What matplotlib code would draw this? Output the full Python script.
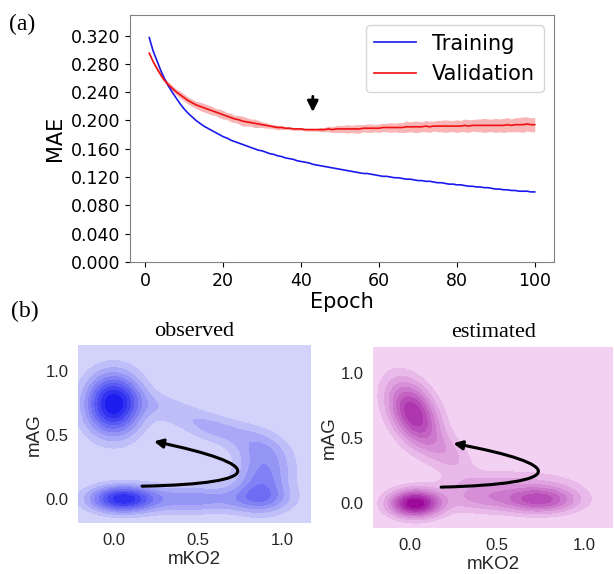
import numpy as np
import matplotlib.pyplot as plt
from matplotlib.colors import LinearSegmentedColormap
from matplotlib.patches import FancyArrowPatch
from matplotlib.path import Path

# ---- panel (a): MAE per epoch ----
epochs = np.arange(1, 101)
train_mae = [0.317, 0.298, 0.284, 0.270, 0.258, 0.248, 0.239, 0.231, 0.223, 0.216,
             0.210, 0.205, 0.200, 0.196, 0.192, 0.189, 0.186, 0.183, 0.180, 0.177,
             0.175, 0.172, 0.170, 0.168, 0.166, 0.164, 0.162, 0.160, 0.158, 0.157,
             0.155, 0.153, 0.152, 0.150, 0.149, 0.147, 0.146, 0.145, 0.143, 0.142,
             0.141, 0.140, 0.138, 0.137, 0.136, 0.135, 0.134, 0.133, 0.132, 0.131,
             0.130, 0.129, 0.128, 0.127, 0.126, 0.125, 0.125, 0.124, 0.123, 0.122,
             0.121, 0.121, 0.120, 0.119, 0.119, 0.118, 0.117, 0.117, 0.116, 0.115,
             0.115, 0.114, 0.114, 0.113, 0.112, 0.112, 0.111, 0.110, 0.110, 0.109,
             0.109, 0.108, 0.107, 0.107, 0.106, 0.106, 0.105, 0.105, 0.104, 0.103,
             0.103, 0.102, 0.102, 0.101, 0.101, 0.100, 0.100, 0.100, 0.099, 0.099]
val_mae = [0.295, 0.283, 0.273, 0.264, 0.256, 0.250, 0.245, 0.240, 0.236, 0.232,
           0.228, 0.225, 0.222, 0.220, 0.218, 0.216, 0.214, 0.212, 0.210, 0.208,
           0.206, 0.204, 0.202, 0.201, 0.199, 0.198, 0.197, 0.196, 0.195, 0.194,
           0.193, 0.192, 0.191, 0.190, 0.190, 0.189, 0.189, 0.188, 0.188, 0.188,
           0.187, 0.187, 0.187, 0.187, 0.187, 0.187, 0.188, 0.187, 0.188, 0.188,
           0.188, 0.188, 0.188, 0.188, 0.188, 0.189, 0.189, 0.189, 0.189, 0.189,
           0.190, 0.190, 0.190, 0.190, 0.190, 0.190, 0.191, 0.191, 0.191, 0.191,
           0.191, 0.192, 0.191, 0.192, 0.192, 0.192, 0.192, 0.192, 0.192, 0.192,
           0.192, 0.193, 0.192, 0.193, 0.193, 0.193, 0.193, 0.193, 0.193, 0.193,
           0.193, 0.193, 0.194, 0.193, 0.194, 0.194, 0.194, 0.195, 0.194, 0.194]
val_std = [0.002, 0.002, 0.003, 0.003, 0.003, 0.004, 0.004, 0.004, 0.005, 0.005,
           0.005, 0.005, 0.005, 0.006, 0.006, 0.006, 0.006, 0.005, 0.006, 0.006,
           0.005, 0.006, 0.005, 0.006, 0.007, 0.006, 0.005, 0.006, 0.005, 0.004,
           0.004, 0.003, 0.003, 0.003, 0.003, 0.002, 0.002, 0.002, 0.002, 0.002,
           0.002, 0.002, 0.002, 0.002, 0.003, 0.003, 0.004, 0.004, 0.005, 0.005,
           0.005, 0.006, 0.005, 0.006, 0.006, 0.005, 0.006, 0.006, 0.005, 0.006,
           0.006, 0.006, 0.007, 0.006, 0.007, 0.007, 0.008, 0.007, 0.008, 0.008,
           0.007, 0.008, 0.008, 0.007, 0.008, 0.008, 0.009, 0.008, 0.008, 0.009,
           0.008, 0.009, 0.009, 0.008, 0.009, 0.009, 0.010, 0.009, 0.009, 0.010,
           0.009, 0.010, 0.010, 0.009, 0.010, 0.010, 0.011, 0.010, 0.010, 0.010]
best_epoch = 43

# ---- panel (b): density blobs (centre, spread, tilt, height) ----
obs_cx = [0.00, 0.05, 0.45, 0.88, 0.85, 0.30, 0.60, 0.88]
obs_cy = [0.74, 0.00, 0.00, 0.12, 0.00, 0.72, 0.55, 0.38]
obs_sx = [0.11, 0.13, 0.20, 0.11, 0.15, 0.15, 0.15, 0.12]
obs_sy = [0.16, 0.07, 0.075, 0.14, 0.07, 0.09, 0.09, 0.12]
obs_rho = [0.0, 0.0, 0.0, 0.0, 0.0, -0.5, -0.5, -0.3]
obs_amp = [1.00, 0.85, 0.35, 0.42, 0.22, 0.14, 0.22, 0.26]

est_cx = [0.02, 0.22, 0.03, 0.75, 0.40, 0.60]
est_cy = [0.69, 0.38, 0.00, 0.03, 0.05, 0.17]
est_sx = [0.10, 0.10, 0.10, 0.15, 0.15, 0.25]
est_sy = [0.17, 0.12, 0.07, 0.07, 0.08, 0.07]
est_rho = [-0.4, -0.5, 0.0, 0.0, 0.0, 0.0]
est_amp = [0.80, 0.22, 1.00, 0.65, 0.30, 0.15]

# trajectory arrow (start, two controls, tip)
obs_arrow = [(0.17, 0.10), (0.92, 0.12), (0.90, 0.27), (0.24, 0.45)]
est_arrow = [(0.18, 0.125), (0.92, 0.15), (0.90, 0.30), (0.25, 0.46)]


def density(xx, yy, cx, cy, sx, sy, rho, amp):
    z = np.zeros_like(xx)
    for x0, y0, a, b, r, h in zip(cx, cy, sx, sy, rho, amp):
        dx = (xx - x0) / a
        dy = (yy - y0) / b
        z += h * np.exp(-(dx * dx - 2 * r * dx * dy + dy * dy) / (2 * (1 - r * r)))
    return z


def kde_panel(ax, z, xx, yy, bg, peak, title, arrow):
    cmap = LinearSegmentedColormap.from_list('k', [bg, peak])
    levels = np.linspace(0, z.max(), 11)
    ax.contourf(xx, yy, z, levels=levels, cmap=cmap)
    path = Path(arrow, [Path.MOVETO, Path.CURVE4, Path.CURVE4, Path.CURVE4])
    ax.add_patch(FancyArrowPatch(path=path, arrowstyle='-|>', mutation_scale=13,
                                 lw=2.2, color='black'))
    ax.set_xlim(-0.21, 1.17)
    ax.set_ylim(-0.19, 1.20)
    ax.set_xticks([0.0, 0.5, 1.0])
    ax.set_yticks([0.0, 0.5, 1.0])
    for s in ax.spines.values():
        s.set_visible(False)
    ax.tick_params(length=0, pad=7, labelsize=12, labelcolor='#262626')
    for lab in ax.get_xticklabels() + ax.get_yticklabels():
        lab.set_family('Liberation Sans')
    ax.set_xlabel('mKO2', fontsize=13.5, family='Liberation Sans', color='#262626', labelpad=2)
    ax.set_ylabel('mAG', fontsize=13.5, family='Liberation Sans', color='#262626', labelpad=2)
    ax.set_title(title, fontsize=16, family='Liberation Serif', pad=7)


fig = plt.figure(figsize=(6.14, 5.74), dpi=100)

ax = fig.add_axes([0.2117, 0.5436, 0.6906, 0.4303])
ax.plot(epochs, train_mae, color='#1a1aee', lw=1.2, label='Training')
ax.plot(epochs, val_mae, color='#ee1111', lw=1.2, label='Validation')
ax.fill_between(epochs, np.array(val_mae) - np.array(val_std),
                np.array(val_mae) + np.array(val_std), color='#f03030', alpha=0.35, lw=0)
ax.set_ylim(0, 0.349)
ax.set_yticks(np.linspace(0, 0.32, 9))
ax.yaxis.set_major_formatter('{x:.3f}')
ax.set_xticks([0, 20, 40, 60, 80, 100])
ax.tick_params(labelsize=12.5)
ax.set_xlabel('Epoch', fontsize=15, labelpad=2)
ax.set_ylabel('MAE', fontsize=15)
for s in ax.spines.values():
    s.set_color('#808080')
ax.annotate('', xy=(best_epoch, 0.208), xytext=(best_epoch, 0.238),
            arrowprops=dict(arrowstyle='-|>', color='black', lw=2, mutation_scale=16))
ax.legend(loc='upper right', fontsize=15)

xx, yy = np.meshgrid(np.linspace(-0.3, 1.3, 320), np.linspace(-0.3, 1.3, 320))

ax1 = fig.add_axes([0.127, 0.0883, 0.3795, 0.310])
z_obs = density(xx, yy, obs_cx, obs_cy, obs_sx, obs_sy, obs_rho, obs_amp)
kde_panel(ax1, z_obs, xx, yy, '#dcdcfb', '#1212ee', 'observed', obs_arrow)

ax2 = fig.add_axes([0.608, 0.0796, 0.391, 0.3164])
z_est = density(xx, yy, est_cx, est_cy, est_sx, est_sy, est_rho, est_amp)
kde_panel(ax2, z_est, xx, yy, '#f8dbf8', '#960096', 'estimated', est_arrow)

fig.text(0.015, 0.975, '(a)', fontsize=17, family='Liberation Serif', va='top')
fig.text(0.018, 0.475, '(b)', fontsize=17, family='Liberation Serif', va='top')

fig.savefig('out.png', dpi=100)
